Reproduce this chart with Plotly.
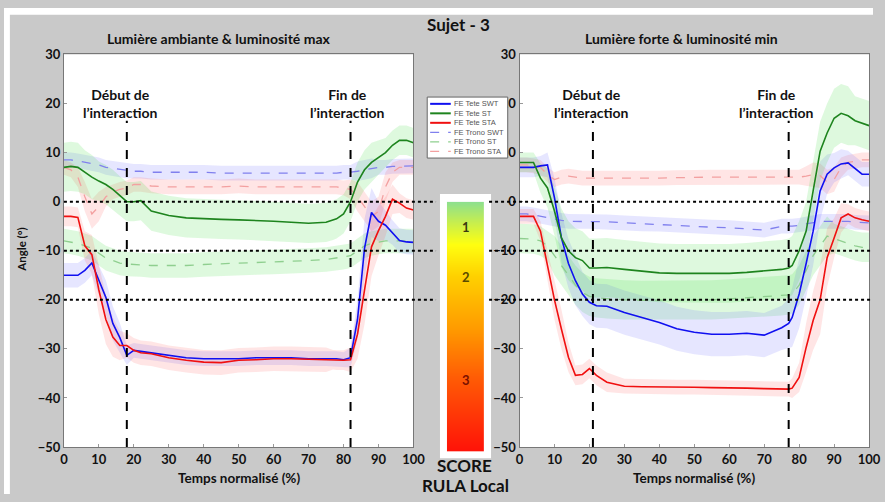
import plotly.graph_objects as go

W, H = 885, 502

# shared normalised-time grid (%)
X = [0, 2, 4, 6, 8, 10, 12, 14, 16, 18, 20, 22, 25, 30, 35, 40, 45, 50, 55, 60, 65, 70, 75,
     77, 78, 80, 82, 84, 86, 88, 90, 92, 94, 96, 98, 100]

# ---- left panel: Lumière ambiante & luminosité max ----
L_swt = [-15, -15, -15, -14, -12.5, -16, -19.5, -24.8, -27.7, -31.3, -30.3, -30.5,
         -30.8, -31.3, -31.8, -32, -32, -32, -31.8, -31.8, -31.8, -32, -32,
         -32, -32, -32.2, -31.8, -24, -9.5, -2.2, -4, -4.8, -6.3, -7.9, -8.2, -8.3]
L_swt_sd = [2.5, 2.5, 2.5, 2.5, 2.5, 3, 3.5, 3.5, 3, 2, 1.5, 1.5,
            1.5, 1.5, 1.5, 1.5, 1.5, 1.5, 1.5, 1.5, 1.5, 1.5, 1.5,
            1.5, 1.5, 1.5, 2, 4, 6, 5, 4, 3, 2.5, 2.5, 2.5, 2.5]
L_st = [7, 7.2, 7, 6, 5, 4.2, 3.5, 2.5, 1.2, 0, 0, 0.2,
        -1.9, -2.8, -3.3, -3.5, -3.6, -3.7, -3.8, -4, -4.2, -4.4, -4.2,
        -3.8, -3.5, -2.5, 0, 4, 6.5, 8, 9, 10, 11.5, 12.5, 12.5, 12]
L_st_sd = [5, 5, 5, 4.5, 4.5, 4, 4, 4, 4, 4, 4, 4,
           4, 4, 4, 4, 4, 4, 4, 4, 4, 4, 4,
           4, 4, 4, 4, 4, 4, 4, 3.5, 3, 3, 3, 3, 3]
L_sta = [-3, -3, -3.2, -9, -10.8, -18, -24, -27.6, -29.3, -29.3, -30.3, -30.8,
         -31, -31.8, -32.3, -32.7, -32.8, -32.3, -32.2, -32, -32, -32.1, -32.2,
         -32.2, -32.3, -32.3, -32.2, -27, -18, -9.2, -5.9, -3, 0.5, -0.3, -1.3, -1.7]
L_sta_sd = [2, 2, 2, 3, 4, 5, 5, 4, 3, 2.5, 2.5, 2.5,
            2.5, 2.5, 2.5, 2.5, 2.5, 2.5, 2.5, 2.5, 2.5, 2.5, 2.5,
            2, 2, 2, 2.5, 5, 7, 6, 5, 4, 3, 2, 2, 2]
L_swt_t = [8.5, 8.5, 8.3, 8, 7.8, 7.5, 7, 6.8, 6.5, 6.3, 6.2, 6.2,
           6, 6, 6, 6, 5.8, 5.8, 5.8, 5.8, 5.8, 5.8, 5.8,
           5.8, 5.8, 6, 6, 6.2, 6.5, 6.8, 7, 7, 7.2, 7.2, 7.3, 7.3]
L_swt_t_sd = [1.5, 1.5, 1.5, 1.5, 1.5, 1.5, 1.5, 1.5, 1.5, 1.5, 1.5, 1.5,
              1.5, 1.5, 1.5, 1.5, 1.5, 1.5, 1.5, 1.5, 1.5, 1.5, 1.5,
              1.5, 1.5, 1.5, 1.5, 2, 2, 2, 1.5, 1.5, 1.5, 1.5, 1.5, 1.5]
L_st_t = [-8, -8.2, -8.5, -9, -9.5, -10.5, -11.5, -12, -12.5, -12.7, -12.8, -12.8,
          -13, -13, -13, -12.8, -12.6, -12.5, -12.4, -12.3, -12.2, -12, -11.8,
          -11.6, -11.5, -11.3, -11, -10, -9, -8.5, -8.2, -8, -8, -8, -8, -8]
L_st_t_sd = [2.5, 2.5, 2.5, 2.5, 2.5, 2.5, 2.5, 2.5, 2.5, 2.5, 2.5, 2.5,
             2.5, 2.5, 2.5, 2.5, 2.5, 2.5, 2.5, 2.5, 2.5, 2.5, 2.5,
             2.5, 2.5, 2.5, 2.5, 2.5, 2.5, 2.5, 2.5, 2.5, 2.5, 2.5, 2.5, 2.5]
L_sta_t = [7, 6.5, 5, 1, -2.5, -1, 1, 2, 2.5, 2.8, 3.5, 3.5,
           3.2, 3, 3, 3, 3, 3.2, 3, 3, 3, 3, 3,
           3, 3, 2.8, 2.5, 1, -1, -3, -2, 3, 6, 7, 7, 7]
L_sta_t_sd = [1.5, 1.5, 2, 3, 3, 3, 2, 1.5, 1.5, 1.5, 1.5, 1.5,
              1.5, 1.5, 1.5, 1.5, 1.5, 1.5, 1.5, 1.5, 1.5, 1.5, 1.5,
              1.5, 1.5, 1.5, 2, 3, 3, 3, 3, 3, 2, 1.5, 1.5, 1.5]

# ---- right panel: Lumière forte & luminosité min ----
R_swt = [7, 7, 7, 7.3, 7.5, 0.8, -7.4, -12.6, -16.1, -18.8, -20.5, -21.2,
         -21.3, -22.6, -23.6, -24.6, -25.9, -26.6, -27, -27, -26.8, -27.2, -25.7,
         -24.8, -23.6, -18.8, -12.6, -6, 2.2, 5.6, 6.9, 7.7, 7.9, 6.7, 5.6, 5.6]
R_swt_sd = [2, 2, 2, 2, 2.5, 4, 5, 5, 5, 4.5, 4.5, 4.5,
            4.5, 4.5, 4.5, 4.5, 4.5, 4.5, 4.5, 4.5, 4.5, 4.5, 4.5,
            5, 6, 7, 7, 7, 6, 4, 3, 3, 2.5, 2.5, 2.5, 2.5]
R_st = [8, 8, 8, 4.8, 2.8, -1.9, -7.4, -10, -11.4, -12, -13.5, -13.5,
        -13.4, -13.8, -14.2, -14.5, -14.6, -14.6, -14.6, -14.6, -14.4, -14.1, -13.8,
        -13.5, -13, -10, -6, 2.2, 10.3, 14, 17, 18, 17.5, 16.5, 16, 15.5]
R_st_sd = [2, 2, 2, 3, 4, 5, 6, 6, 6, 6, 6, 6,
           6, 6, 6, 6, 6, 6, 6, 6, 6, 6, 6,
           6, 6, 6, 6, 6, 6, 6, 6, 6, 6, 5, 5, 5]
R_sta = [-3, -3, -3, -6, -13, -20, -26, -31.7, -35.4, -35.2, -34, -35.4,
         -36.8, -37.6, -37.7, -37.7, -37.8, -37.8, -37.9, -37.9, -38, -38.1, -38.2,
         -38.2, -38, -35.8, -29.7, -24.2, -20, -11.4, -7.4, -3.3, -2.5, -3.3, -3.7, -4]
R_sta_sd = [1.5, 1.5, 1.5, 2, 3, 4, 4, 3, 2, 2, 2, 2,
            2, 1.5, 1.5, 1.5, 1.5, 1.5, 1.5, 1.5, 1.5, 1.5, 1.5,
            1.5, 2, 3, 5, 6, 7, 6, 4, 3, 2, 2, 2, 2]
R_swt_t = [-2.5, -2.5, -2.7, -3, -3.2, -3.5, -3.8, -4, -4, -4, -4, -4,
           -4.1, -4.3, -4.5, -4.6, -4.8, -5, -5.2, -5.3, -5.5, -5.8, -5,
           -5, -5, -4.8, -4.5, -4.3, -4, -4, -4, -4, -4, -4.2, -4.3, -4.3]
R_swt_t_sd = [1.5, 1.5, 1.5, 1.5, 1.5, 1.5, 1.5, 1.5, 1.5, 1.5, 1.5, 1.5,
              1.5, 1.5, 1.5, 1.5, 1.5, 1.5, 1.5, 1.5, 1.5, 1.5, 1.5,
              1.5, 1.5, 1.5, 1.5, 1.5, 1.5, 1.5, 1.5, 1.5, 1.5, 1.5, 1.5, 1.5]
R_st_t = [-7.5, -7.5, -7.6, -8, -9, -11, -13, -15, -17, -18.5, -19.3, -19.6,
          -19.8, -20, -20.1, -20.1, -20, -20, -20, -19.8, -19.6, -19.4, -19.2,
          -19, -18.8, -17, -14, -11, -9, -7, -7.5, -8, -8.5, -9, -9.3, -9.3]
R_st_t_sd = [3, 3, 3, 3, 3, 4, 4, 4, 4, 4, 4, 4,
             4, 4, 4, 4, 4, 4, 4, 4, 4, 4, 4,
             4, 4, 4, 4, 4, 4, 4, 3, 3, 3, 3, 3, 3]
R_sta_t = [7.5, 7.5, 7.3, 7, 5.5, 4.5, 5, 5.2, 5, 4.8, 4.8, 4.8,
           4.7, 4.7, 4.8, 4.8, 4.9, 5, 5, 5, 5, 5, 5,
           5, 5, 5, 5.2, 5.5, 5.3, 4, 4.5, 7, 8, 8.3, 8.5, 8.5]
R_sta_t_sd = [1.5, 1.5, 1.5, 1.5, 1.5, 1.5, 1.5, 1.5, 1.5, 1.5, 1.5, 1.5,
              1.5, 1.5, 1.5, 1.5, 1.5, 1.5, 1.5, 1.5, 1.5, 1.5, 1.5,
              1.5, 1.5, 1.5, 2, 2.5, 2.5, 2.5, 2.5, 2, 1.5, 1.5, 1.5, 1.5]

legend_names = ["FE Tete SWT", "FE Tete ST", "FE Tete STA",
                "FE Trono SWT", "FE Trono ST", "FE Trono STA"]
interaction = {"x": (18, 82), "x2": (21, 77)}
score_levels = [0, 10, 20, 30, 40, 50, 60, 70, 80, 90, 100]

BLUE, GREEN, RED = "#1010f0", "#1e841e", "#f01010"
BAND = {"b": "rgba(90,90,255,0.15)", "g": "rgba(60,220,60,0.17)", "r": "rgba(255,80,80,0.15)"}
DASH = {"b": "#8080ee", "g": "#8fcf8f", "r": "#f3a0a0"}
FONT = "Lato"

fig = go.Figure()

panels = [
    ("x", "y", [(L_swt_t, L_swt_t_sd, "b"), (L_st_t, L_st_t_sd, "g"), (L_sta_t, L_sta_t_sd, "r")],
     [(L_swt, L_swt_sd, "b"), (L_st, L_st_sd, "g"), (L_sta, L_sta_sd, "r")]),
    ("x2", "y2", [(R_swt_t, R_swt_t_sd, "b"), (R_st_t, R_st_t_sd, "g"), (R_sta_t, R_sta_t_sd, "r")],
     [(R_swt, R_swt_sd, "b"), (R_st, R_st_sd, "g"), (R_sta, R_sta_sd, "r")]),
]
solid_col = {"b": BLUE, "g": GREEN, "r": RED}

for xa, ya, dashed, solid in panels:
    # bands first
    for mean, sd, c in dashed + solid:
        up = [m + s for m, s in zip(mean, sd)]
        lo = [m - s for m, s in zip(mean, sd)]
        fig.add_trace(go.Scatter(x=X + X[::-1], y=up + lo[::-1], fill="toself",
                                 fillcolor=BAND[c], line=dict(width=0), mode="lines",
                                 xaxis=xa, yaxis=ya, hoverinfo="skip", showlegend=False))
    for mean, sd, c in dashed:
        fig.add_trace(go.Scatter(x=X, y=mean, mode="lines", xaxis=xa, yaxis=ya,
                                 line=dict(color=DASH[c], width=1.3, dash="dash"), showlegend=False))
    for mean, sd, c in solid:
        fig.add_trace(go.Scatter(x=X, y=mean, mode="lines", xaxis=xa, yaxis=ya,
                                 line=dict(color=solid_col[c], width=1.6), showlegend=False))

# RULA score colour bar
fig.add_trace(go.Heatmap(x=[0, 1], y=score_levels, z=[[v, v] for v in score_levels],
                         zsmooth="best", showscale=False, hoverinfo="skip",
                         colorscale=[[0, "#ff1208"], [0.29, "#ff5a05"], [0.49, "#ff9a00"],
                                     [0.70, "#ffd000"], [0.83, "#ffff10"], [0.92, "#c6ee50"],
                                     [1, "#8ee08e"]],
                         xaxis="x3", yaxis="y3"))

TOP, BOT = 48, 453.5
ydom = [(H - BOT) / H, (H - TOP) / H]
tickfont = dict(family=FONT, size=13, color="#111", weight="bold")
axcommon = dict(showgrid=False, zeroline=False, showline=True, mirror=True, linecolor="#777",
                linewidth=1, ticks="inside", ticklen=3, tickcolor="#999", tickfont=tickfont)
fig.update_layout(
    width=W, height=H, margin=dict(l=0, r=0, t=0, b=0),
    paper_bgcolor="#c9c9c9", plot_bgcolor="white", showlegend=False,
    xaxis=dict(domain=[61 / W, 417 / W], anchor="y", range=[0, 100], tickvals=list(range(0, 101, 10)), **axcommon),
    yaxis=dict(domain=ydom, anchor="x", range=[-50, 30], tickvals=list(range(-50, 31, 10)), **axcommon),
    xaxis2=dict(domain=[525 / W, 881 / W], anchor="y2", range=[0, 100], tickvals=list(range(0, 101, 10)), **axcommon),
    yaxis2=dict(domain=ydom, anchor="x2", range=[-50, 30], tickvals=list(range(-50, 31, 10)), **axcommon),
    xaxis3=dict(domain=[451 / W, 489 / W], anchor="y3", range=[0, 1], visible=False),
    yaxis3=dict(domain=[(H - 458) / H, (H - 200) / H], anchor="x3", range=[0, 100], visible=False),
)

shapes = [
    # white margins of the original figure
    dict(type="rect", xref="paper", yref="paper", x0=0, x1=1, y0=(H - 7) / H, y1=1,
         fillcolor="white", line=dict(width=0), layer="below"),
    dict(type="rect", xref="paper", yref="paper", x0=0, x1=6 / W, y0=0, y1=1,
         fillcolor="white", line=dict(width=0), layer="below"),
    # colour bar frame
    dict(type="rect", xref="paper", yref="paper", x0=444 / W, x1=496 / W,
         y0=(H - 465) / H, y1=(H - 192) / H, fillcolor="white", line=dict(width=0), layer="below"),
]
for yv in (0, -10, -20):
    shapes.append(dict(type="line", xref="paper", yref="y", x0=61 / W, x1=440 / W, y0=yv, y1=yv,
                       line=dict(color="black", width=2, dash="dot")))
    shapes.append(dict(type="line", xref="paper", yref="y2", x0=494 / W, x1=1, y0=yv, y1=yv,
                       line=dict(color="black", width=2, dash="dot")))
for xa, ya in (("x", "y"), ("x2", "y2")):
    for xv in interaction[xa]:
        shapes.append(dict(type="line", xref=xa, yref=ya, x0=xv, x1=xv, y0=-50, y1=16.5,
                           line=dict(color="black", width=2, dash="dash")))

# hand-drawn legend box
lx0, lx1, ly0, ly1 = 431, 513, 92, 155
shapes.append(dict(type="rect", xref="paper", yref="paper", x0=lx0 / W, x1=lx1 / W,
                   y0=(H - ly1) / H, y1=(H - ly0) / H, fillcolor="white",
                   line=dict(color="#666", width=1)))
leg_styles = [(BLUE, "solid", 2), (GREEN, "solid", 2), (RED, "solid", 2),
              (DASH["b"], "dash", 1.2), (DASH["g"], "dash", 1.2), (DASH["r"], "dash", 1.2)]
annotations = []
for i, (name, (col, dsh, wd)) in enumerate(zip(legend_names, leg_styles)):
    yy = (H - (99 + i * 9.8)) / H
    shapes.append(dict(type="line", xref="paper", yref="paper", x0=434 / W, x1=455 / W, y0=yy, y1=yy,
                       line=dict(color=col, width=wd, dash=dsh)))
    annotations.append(dict(x=456 / W, y=yy, xref="paper", yref="paper", text=name, showarrow=False,
                            xanchor="left", yanchor="middle",
                            font=dict(family="Liberation Sans", size=7.5, color="#555")))

def ann(text, x, y, size, xref="paper", yref="paper", color="#111", **kw):
    annotations.append(dict(text=text, x=x, y=y, xref=xref, yref=yref, showarrow=False,
                            xanchor="center", yanchor="middle",
                            font=dict(family=FONT, size=size, color=color, weight="bold"), **kw))

ann("Sujet - 3", 463 / W, (H - 17) / H, 17)
ann("Lumière ambiante & luminosité max", 218 / W, (H - 32) / H, 14)
ann("Lumière forte & luminosité min", 690 / W, (H - 32) / H, 14)
ann("Début de<br>l’interaction", 16.3, 20, 14, xref="x", yref="y")
ann("Fin de<br>l’interaction", 81, 20, 14, xref="x", yref="y")
ann("Début de<br>l’interaction", 20.5, 20, 14, xref="x2", yref="y2")
ann("Fin de<br>l’interaction", 73.6, 20, 14, xref="x2", yref="y2")
ann("Temps normalisé (%)", 239 / W, (H - 485) / H, 13.5)
ann("Temps normalisé (%)", 703 / W, (H - 485) / H, 13.5)
ann("Angle (°)", 17 / W, (H - 250) / H, 11.5, textangle=-90)
ann("1", 470 / W, (H - 226) / H, 13, color="#3a3a10")
ann("2", 470 / W, (H - 278) / H, 13, color="#5a4a00")
ann("3", 470 / W, (H - 384) / H, 13, color="#7a1000")
ann("SCORE", 469 / W, (H - 473) / H, 17)
ann("RULA Local", 470 / W, (H - 493) / H, 17)

fig.update_layout(shapes=shapes, annotations=annotations)
# the page's default body margin would shift the figure by 8 px
fig.write_html("out.html", config={"displayModeBar": False},
               post_script="document.body.style.margin='0';")
